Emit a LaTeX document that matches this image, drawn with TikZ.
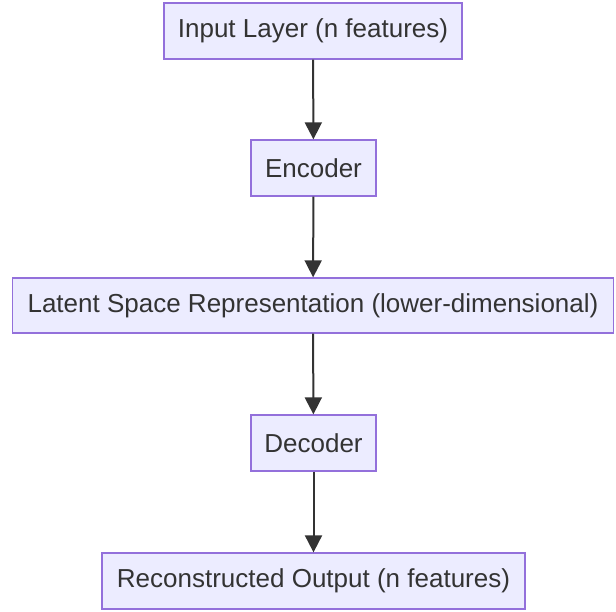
\documentclass[tikz,border=0pt]{standalone}
\usepackage{fontspec}
\setmainfont{Liberation Sans}
\usetikzlibrary{arrows.meta}
\definecolor{boxfill}{HTML}{ECECFF}
\definecolor{boxline}{HTML}{9370DB}
\definecolor{edge}{HTML}{333333}
\definecolor{txt}{HTML}{333333}
\begin{document}
\begin{tikzpicture}[x=1pt,y=-1pt,
  box/.style={draw=boxline,fill=boxfill,line width=1.3pt,inner sep=0pt,
    minimum height=56pt,text=txt,font=\fontsize{26}{30}\selectfont},
  conn/.style={draw=edge,line width=2pt,-{Triangle[length=17pt,width=17pt]}}]
\useasboundingbox (0,0) rectangle (616,611);
\node[box,minimum width=298pt] (in) at (313,31) {Input Layer (n features)};
\node[box,minimum width=125pt] (enc) at (313.5,168) {Encoder};
\node[box,minimum width=601pt,minimum height=55pt] (lat) at (313,305.5) {Latent Space Representation (lower-dimensional)};
\node[box,minimum width=125pt] (dec) at (313.5,443) {Decoder};
\node[box,minimum width=423pt] (out) at (313.5,581) {Reconstructed Output (n features)};
\draw[conn] (in) -- (enc);
\draw[conn] (enc) -- (lat);
\draw[conn] (lat) -- (dec);
\draw[conn] (dec) -- (out);
\end{tikzpicture}
\end{document}
